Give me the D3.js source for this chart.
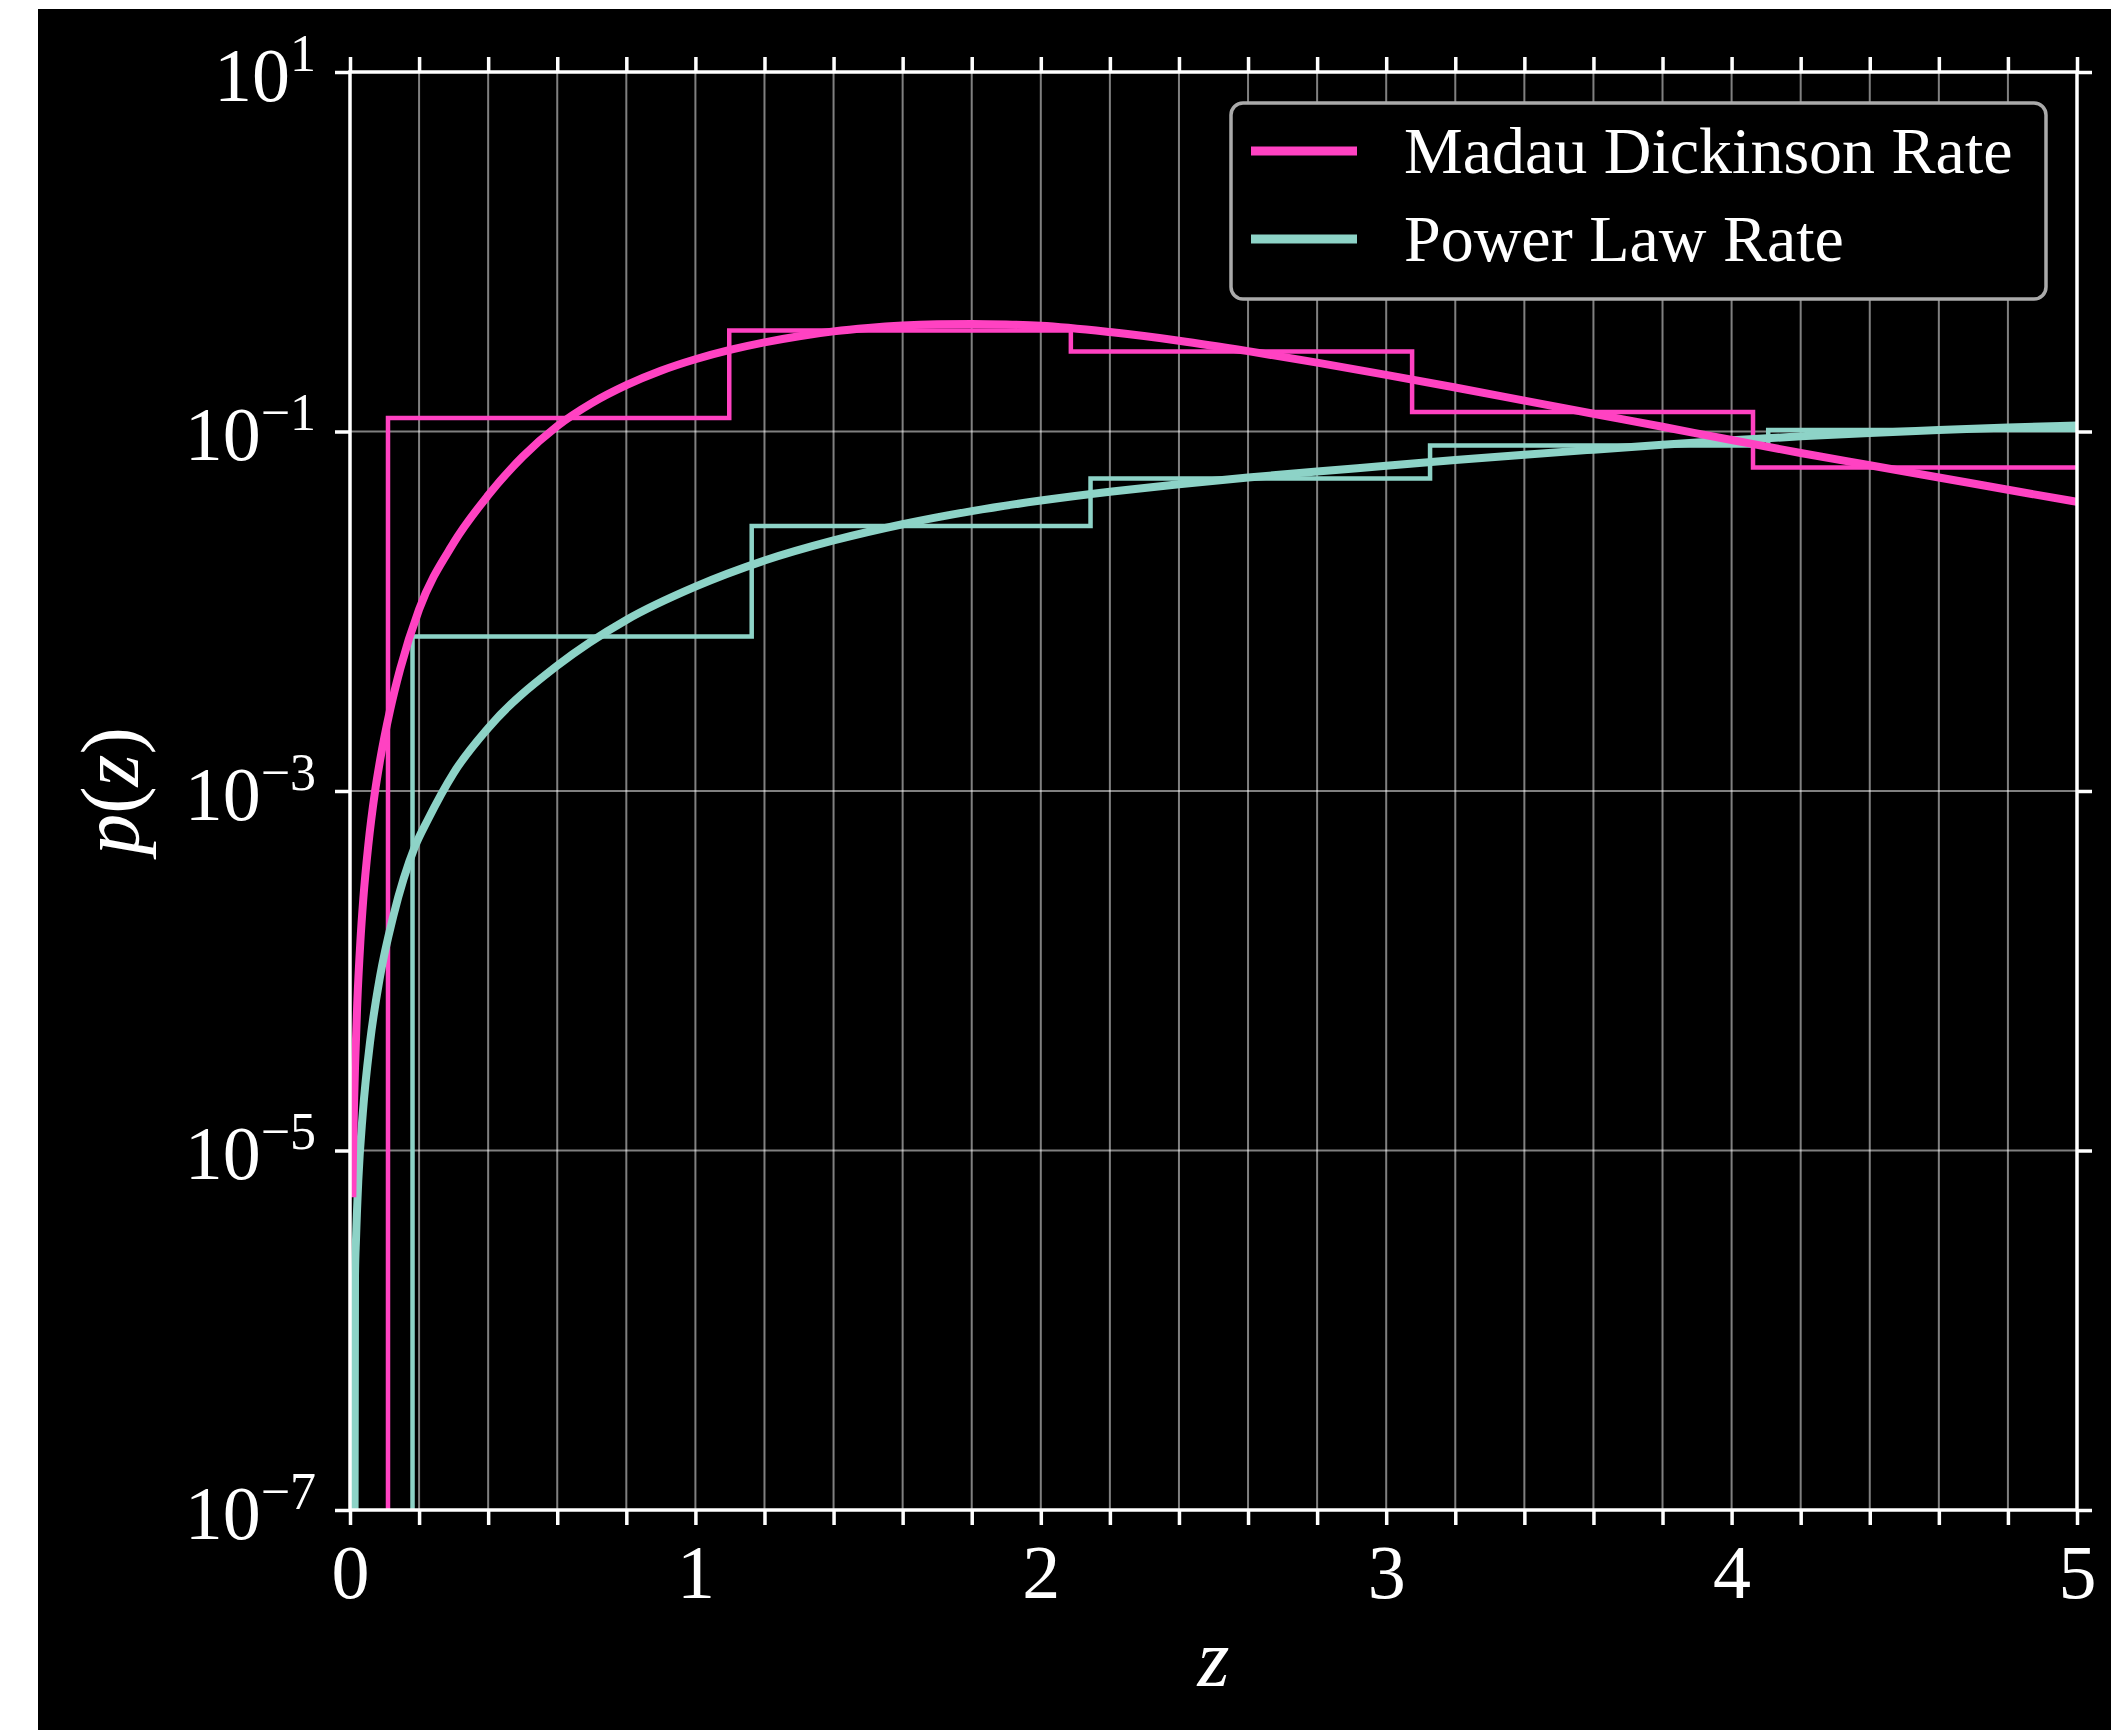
<!DOCTYPE html>
<html>
<head>
<meta charset="utf-8">
<script src="https://cdn.jsdelivr.net/npm/d3@7"></script>
<style>
  html, body { margin: 0; padding: 0; background: #ffffff; }
  svg { display: block; }
  text { font-family: "Liberation Serif", "DejaVu Serif", serif; fill: #ffffff; }
</style>
</head>
<body>
<svg id="chart" width="2111" height="1730"></svg>
<script>
// Redshift distribution p(z): model curves and sample histograms

// Madau–Dickinson rate curve
const mdZ = [0.0068, 0.0091, 0.0116, 0.0145, 0.021, 0.030, 0.0385, 0.053, 0.072, 0.087,
             0.116, 0.145, 0.2, 0.3, 0.4, 0.5, 0.6, 0.7, 0.8, 0.9,
             1.0, 1.1, 1.2, 1.3, 1.4, 1.5, 1.6, 1.7, 1.8, 1.9,
             2.0, 2.2, 2.4, 2.6, 2.8, 3.0, 3.2, 3.4, 3.6, 3.8,
             4.0, 4.2, 4.4, 4.6, 4.8, 5.0];
const mdP = [5.5e-6, 1.05e-5, 1.78e-5, 2.88e-5, 6.6e-5, 1.45e-4, 2.51e-4, 5.0e-4, 9.8e-4, 1.48e-3,
             2.82e-3, 4.75e-3, 0.01023, 0.02399, 0.04416, 0.07244, 0.1072, 0.1439, 0.1811, 0.2178,
             0.2523, 0.2844, 0.3133, 0.3388, 0.3606, 0.3767, 0.3882, 0.3945, 0.3963, 0.3936,
             0.3873, 0.3573, 0.3199, 0.2799, 0.2415, 0.2065, 0.1758, 0.1486, 0.1256, 0.1062,
             0.0897, 0.0759, 0.0649, 0.0555, 0.0474, 0.0406];

// Power-law rate curve
const plZ = [0.0115, 0.0145, 0.0174, 0.024, 0.037, 0.058, 0.087, 0.125, 0.188, 0.225,
             0.3, 0.4, 0.6, 0.8, 1.0, 1.2, 1.4, 1.6, 1.8, 2.0,
             2.2, 2.4, 2.6, 2.8, 3.0, 3.2, 3.4, 3.6, 3.8, 4.0,
             4.2, 4.4, 4.6, 4.8, 5.0];
const plP = [1e-9, 2.0e-6, 3.2e-6, 6.8e-6, 1.61e-5, 4.0e-5, 9.3e-5, 2.0e-4, 4.91e-4, 6.9e-4,
             1.259e-3, 2.239e-3, 4.98e-3, 8.95e-3, 0.01371, 0.01914, 0.02477, 0.03048, 0.03606, 0.04130,
             0.04624, 0.05093, 0.05546, 0.05998, 0.06442, 0.06934, 0.07430, 0.07925, 0.08433, 0.08933,
             0.09397, 0.09817, 0.1019, 0.1052, 0.1081];

// Sample histograms (density, step outline)
const mdEdges = [0.110, 1.098, 2.087, 3.075, 4.062, 5.050];
const mdCounts = [0.119, 0.365, 0.279, 0.1285, 0.063];
const plEdges = [0.181, 1.163, 2.144, 3.127, 4.106, 5.088];
const plCounts = [0.00724, 0.0298, 0.0548, 0.0836, 0.102];
const histFloor = 1e-9;

// Axis ticks and labels
const xTickLabels = ["0", "1", "2", "3", "4", "5"];
const xMinorStep = 0.2;
const yTickExponents = [-7, -5, -3, -1, 1];
const seriesNames = ["Madau Dickinson Rate", "Power Law Rate"];
const seriesColors = ["#ff42c2", "#8dd3c7"];

const W = 2111, H = 1730;
const L = 350, R = 2077, T = 72, B = 1510;

const svg = d3.select("#chart");

// page and figure background
svg.append("rect").attr("x", 0).attr("y", 0).attr("width", W).attr("height", H).attr("fill", "#ffffff");
svg.append("rect").attr("x", 38).attr("y", 9).attr("width", W - 38).attr("height", H - 9).attr("fill", "#000000");

const x = d3.scaleLinear().domain([0, 5]).range([L, R]);
const y = d3.scaleLog().domain([1e-7, 1e1]).range([B, T]);

const xTicks = d3.range(0, 5 + 1e-9, xMinorStep).map(v => +v.toFixed(2));
const yTicks = yTickExponents.map(e => Math.pow(10, e));

// grid
const grid = svg.append("g").attr("stroke", "#ffffff").attr("stroke-opacity", 0.5).attr("stroke-width", 2);
grid.selectAll("line.v").data(xTicks).join("line")
  .attr("x1", d => x(d)).attr("x2", d => x(d)).attr("y1", T).attr("y2", B);
grid.selectAll("line.h").data(yTicks).join("line")
  .attr("x1", L).attr("x2", R).attr("y1", d => y(d)).attr("y2", d => y(d));

// clip to plotting area
svg.append("clipPath").attr("id", "plotClip")
  .append("rect").attr("x", L).attr("y", T).attr("width", R - L).attr("height", B - T);
const plot = svg.append("g").attr("clip-path", "url(#plotClip)");

function stepPoints(edges, counts) {
  const pts = [[edges[0], histFloor]];
  counts.forEach((c, i) => { pts.push([edges[i], c]); pts.push([edges[i + 1], c]); });
  pts.push([edges[edges.length - 1], histFloor]);
  return pts;
}
const stepLine = d3.line().x(d => x(d[0])).y(d => y(d[1]));

plot.append("path").attr("d", stepLine(stepPoints(mdEdges, mdCounts)))
  .attr("fill", "none").attr("stroke", seriesColors[0]).attr("stroke-width", 4.5).attr("stroke-linejoin", "miter");
plot.append("path").attr("d", stepLine(stepPoints(plEdges, plCounts)))
  .attr("fill", "none").attr("stroke", seriesColors[1]).attr("stroke-width", 4.5).attr("stroke-linejoin", "miter");

const curve = d3.line().x(d => x(d[0])).y(d => y(d[1])).curve(d3.curveMonotoneX);
plot.append("path").attr("d", curve(plZ.map((z, i) => [z, plP[i]])))
  .attr("fill", "none").attr("stroke", seriesColors[1]).attr("stroke-width", 8).attr("stroke-linejoin", "round");
plot.append("path").attr("d", curve(mdZ.map((z, i) => [z, mdP[i]])))
  .attr("fill", "none").attr("stroke", seriesColors[0]).attr("stroke-width", 8).attr("stroke-linejoin", "round");

// axes
function styleAxis(g) {
  g.select(".domain").remove();
  g.selectAll(".tick line").attr("stroke", "#ffffff").attr("stroke-width", 3.5);
}
const tickLen = 15;
const fmtX = d => (Math.abs(d - Math.round(d)) < 1e-6 ? xTickLabels[Math.round(d)] : "");

const gBottom = svg.append("g").attr("transform", `translate(0,${B})`)
  .call(d3.axisBottom(x).tickValues(xTicks).tickSize(tickLen).tickFormat(fmtX));
styleAxis(gBottom);
gBottom.selectAll(".tick text").attr("y", 88).attr("dy", 0)
  .attr("font-size", 76).attr("fill", "#ffffff").attr("font-family", "Liberation Serif, serif");

const gTop = svg.append("g").attr("transform", `translate(0,${T})`)
  .call(d3.axisTop(x).tickValues(xTicks).tickSize(tickLen).tickFormat(""));
styleAxis(gTop);

const gLeft = svg.append("g").attr("transform", `translate(${L},0)`)
  .call(d3.axisLeft(y).tickValues(yTicks).tickSize(tickLen).tickFormat(""));
styleAxis(gLeft);
gLeft.selectAll(".tick text").remove();
gLeft.selectAll(".tick").each(function (d) {
  const exp = Math.round(Math.log10(d));
  const t = d3.select(this).append("text")
    .attr("x", -34).attr("y", 28).attr("text-anchor", "end")
    .attr("font-size", 76).attr("fill", "#ffffff");
  t.append("tspan").text("10");
  t.append("tspan").attr("dy", -30).attr("font-size", 52)
    .text(exp < 0 ? "\u2212" + Math.abs(exp) : String(exp));
});

const gRight = svg.append("g").attr("transform", `translate(${R},0)`)
  .call(d3.axisRight(y).tickValues(yTicks).tickSize(tickLen).tickFormat(""));
styleAxis(gRight);

// spines
const spines = svg.append("g").attr("stroke", "#ffffff").attr("stroke-width", 3.5).attr("fill", "none");
spines.append("rect").attr("x", L).attr("y", T).attr("width", R - L).attr("height", B - T);

// axis labels
svg.append("text").attr("x", (L + R) / 2).attr("y", 1686).attr("text-anchor", "middle")
  .attr("font-size", 82).attr("font-style", "italic").text("z");
svg.append("text").attr("transform", `translate(138,${(T + B) / 2}) rotate(-90)`)
  .attr("text-anchor", "middle").attr("font-size", 82)
  .call(t => {
    t.append("tspan").attr("font-style", "italic").text("p");
    t.append("tspan").text("(");
    t.append("tspan").attr("font-style", "italic").text("z");
    t.append("tspan").text(")");
  });

// legend
const legend = svg.append("g");
legend.append("rect").attr("x", 1231).attr("y", 103).attr("width", 815).attr("height", 196)
  .attr("rx", 12).attr("ry", 12).attr("fill", "#000000").attr("stroke", "#aaaaaa").attr("stroke-width", 3.5);
const legRows = [151, 239];
seriesNames.forEach((name, i) => {
  legend.append("line").attr("x1", 1251).attr("x2", 1357).attr("y1", legRows[i]).attr("y2", legRows[i])
    .attr("stroke", seriesColors[i]).attr("stroke-width", 9);
  legend.append("text").attr("x", 1404).attr("y", legRows[i] + 22)
    .attr("font-size", 66).text(name);
});
</script>
</body>
</html>
